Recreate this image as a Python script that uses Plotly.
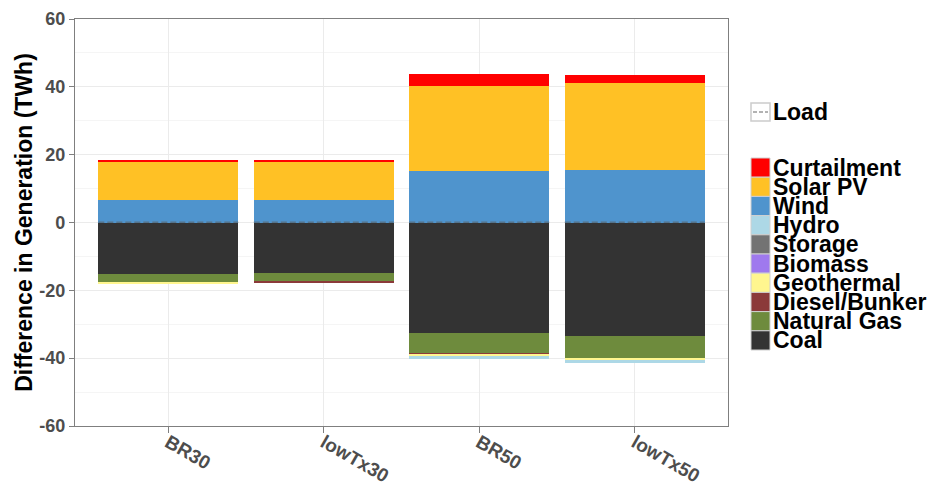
import plotly.graph_objects as go

# ---------------- data ----------------
scenarios = ["BR30", "lowTx30", "BR50", "lowTx50"]

# stacking order (bottom -> outward), matches legend reversed
coal        = [-15.3, -15.0, -32.7, -33.4]
natural_gas = [-2.5, -2.4, -5.8, -6.6]
diesel      = [0.0, -0.3, -0.5, -0.1]
geothermal  = [-0.25, 0.0, -0.5, -0.4]
biomass     = [0.0, 0.0, 0.0, 0.0]
storage     = [0.0, 0.0, 0.0, 0.0]
hydro       = [0.0, 0.0, -0.6, -0.8]
wind        = [6.5, 6.5, 15.3, 15.5]
solar_pv    = [11.6, 11.5, 24.9, 25.7]
curtailment = [0.4, 0.3, 3.5, 2.2]
load        = [0.1, 0.1, 0.1, 0.1]

tech_names = ["Coal", "Natural Gas", "Diesel/Bunker", "Geothermal", "Biomass",
              "Storage", "Hydro", "Wind", "Solar PV", "Curtailment"]
tech_values = [coal, natural_gas, diesel, geothermal, biomass,
               storage, hydro, wind, solar_pv, curtailment]
tech_colors = ["#333333", "#6E8B3D", "#8B3A3A", "#FFF68F", "#9F79EE",
               "#737373", "#ADD8E6", "#4F94CD", "#FFC125", "#FF0000"]

y_ticks = [-60, -40, -20, 0, 20, 40, 60]
y_ticklabels = ["-60", "-40", "-20", "0", "20", "40", "60"]
y_title = "Difference in Generation (TWh)"
load_label = "Load"

# ---------------- figure ----------------
W, H = 936, 487
L, R, T, B = 75, 208, 19, 61
bar_width = 0.9
xs = list(range(len(scenarios)))

fig = go.Figure()
for name, vals, col in zip(tech_names, tech_values, tech_colors):
    fig.add_trace(go.Bar(
        x=xs, y=vals, name=name, width=bar_width,
        marker=dict(color=col, line=dict(width=0)),
        showlegend=False,
    ))

# Load as dashed segment across each bar
lx, ly = [], []
for i, v in zip(xs, load):
    lx += [i - bar_width / 2, i + bar_width / 2, None]
    ly += [v, v, None]
fig.add_trace(go.Scatter(
    x=lx, y=ly, mode="lines", name=load_label, showlegend=False,
    line=dict(color="rgba(90,90,90,0.85)", width=1, dash="6px,3px"),
    hoverinfo="skip",
))

font_family = "Liberation Sans, Arial, sans-serif"
fig.update_layout(
    width=W, height=H,
    barmode="relative",
    bargap=0,
    paper_bgcolor="white",
    plot_bgcolor="white",
    margin=dict(l=L, r=R, t=T, b=B, autoexpand=False),
    font=dict(family=font_family),
    showlegend=False,
)
fig.update_xaxes(
    automargin=False,
    range=[-0.6, len(scenarios) - 0.4],
    tickvals=xs, ticktext=scenarios,
    tickangle=30,
    ticklabelstandoff=-9,
    tickfont=dict(size=19, color="#4D4D4D", family=font_family, weight="bold"),
    showgrid=True, gridcolor="#EBEBEB", gridwidth=1,
    ticks="outside", ticklen=6, tickcolor="#7F7F7F",
    showline=True, linecolor="#7F7F7F", linewidth=1.3, mirror=True,
    zeroline=False,
)
fig.update_yaxes(
    automargin=False,
    range=[-60, 60],
    tickvals=y_ticks, ticktext=y_ticklabels,
    tickfont=dict(size=18, color="#4D4D4D", family=font_family, weight="bold"),
    showgrid=True, gridcolor="#EBEBEB", gridwidth=1,
    minor=dict(dtick=10, showgrid=True, gridcolor="#F5F5F5", gridwidth=1),
    ticks="outside", ticklen=5, tickcolor="#7F7F7F",
    showline=True, linecolor="#7F7F7F", linewidth=1.3, mirror=True,
    zeroline=False,
    title=dict(text=y_title, font=dict(size=23, color="black", family=font_family, weight="bold"),
               standoff=0),
)

# ---------------- manual legend (ggplot style compact) ----------------
pw = W - L - R
ph = H - T - B

def px(x):
    return (x - L) / pw

def py(y):
    return (H - B - y) / ph

leg_font = dict(size=23, color="black", family=font_family, weight="bold")
kx0, kx1 = 751, 770
text_x = 772

# Load key
fig.add_shape(type="rect", xref="paper", yref="paper",
              x0=px(kx0), x1=px(kx1), y0=py(121), y1=py(103),
              fillcolor="white", line=dict(color="#CCCCCC", width=1.5), layer="above")
fig.add_shape(type="line", xref="paper", yref="paper",
              x0=px(kx0 + 2), x1=px(kx1 - 2), y0=py(112), y1=py(112),
              line=dict(color="#666666", width=1, dash="4px,2px"), layer="above")
fig.add_annotation(xref="paper", yref="paper", x=px(text_x), y=py(112),
                   text=load_label, showarrow=False, xanchor="left", yanchor="middle",
                   font=leg_font, borderpad=0)

# fill keys (legend order is reversed stacking order)
top0, step = 158, 19.2
for k, (name, col) in enumerate(zip(tech_names[::-1], tech_colors[::-1])):
    y0 = top0 + k * step
    fig.add_shape(type="rect", xref="paper", yref="paper",
                  x0=px(kx0), x1=px(kx1), y0=py(y0 + step), y1=py(y0),
                  fillcolor=col, line=dict(color="#D0D0D0", width=1), layer="above")
    fig.add_annotation(xref="paper", yref="paper", x=px(text_x), y=py(y0 + step / 2),
                       text=name, showarrow=False, xanchor="left", yanchor="middle",
                       font=leg_font, borderpad=0)

fig.write_html(
    "out.html",
    config={"displayModeBar": False},
    post_script="document.body.style.margin='0';document.body.style.overflow='hidden';",
)
